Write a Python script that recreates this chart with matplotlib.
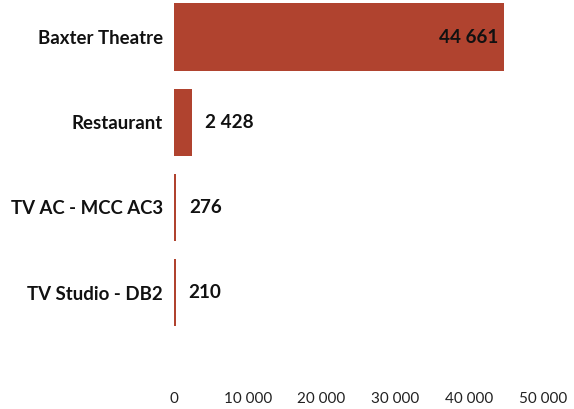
import matplotlib
matplotlib.use("Agg")
import matplotlib.pyplot as plt

# data
venues = ["Baxter Theatre", "Restaurant", "TV AC - MCC AC3", "TV Studio - DB2"]
counts = [44661, 2428, 276, 210]
xticks = [0, 10000, 20000, 30000, 40000, 50000]

barColor = "#b0432f"

def fmt(v):
    return "{:,}".format(v).replace(",", " ")

plt.rcParams['font.family'] = ['Lato', 'DejaVu Sans']

fig = plt.figure(figsize=(5.74, 4.09), dpi=100)
ax = fig.add_axes([174/574, 1 - 382/409, (543-174)/574, 382/409])

ypos = list(range(len(venues)))
ax.barh(ypos, counts, height=0.79, color=barColor)
ax.set_ylim(4.05, -0.435)
ax.set_xlim(0, 50000)

ax.set_yticks(ypos)
ax.set_yticklabels(venues, fontsize=13.4, fontweight='bold', color='#111111')
ax.set_xticks(xticks)
ax.set_xticklabels([fmt(t) for t in xticks], fontsize=11, color='#222222')
ax.tick_params(axis='y', length=0, pad=8)
ax.tick_params(axis='x', length=0, pad=7)
for s in ax.spines.values():
    s.set_visible(False)

for y, v in zip(ypos, counts):
    if v > 20000:
        ax.annotate(fmt(v), (v, y), xytext=(-5, 0), textcoords='offset pixels',
                    ha='right', va='center', fontsize=13.6, fontweight='bold', color='#111111')
    else:
        ax.annotate(fmt(v), (v, y), xytext=(13, 0), textcoords='offset pixels',
                    ha='left', va='center', fontsize=13.6, fontweight='bold', color='#111111')

fig.savefig("out.png", dpi=100)
